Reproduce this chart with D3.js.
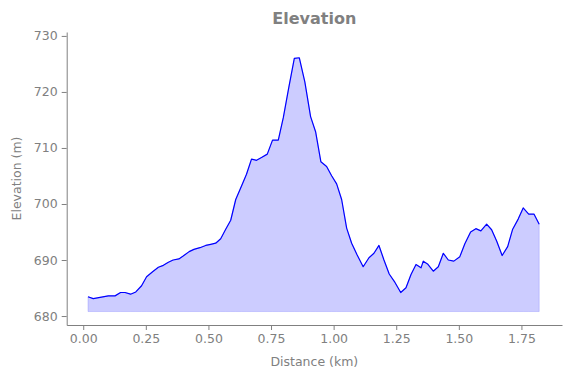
<!DOCTYPE html>
<html>
<head>
<meta charset="utf-8">
<script src="https://cdn.jsdelivr.net/npm/d3@7"></script>
<style>
  body { margin: 0; background: #fff; }
  svg text { font-family: "DejaVu Sans", sans-serif; fill: #808080; }
</style>
</head>
<body>
<svg id="chart" width="571" height="378"></svg>
<script>
// distance (km) and elevation (m)
let distance = [
	0.019, 0.040, 0.100, 0.127, 0.149, 0.167, 0.189, 0.210, 0.233, 0.253,
	0.277, 0.300, 0.320, 0.340, 0.359, 0.382, 0.399, 0.423, 0.442, 0.466,
	0.489, 0.509, 0.529, 0.549, 0.569, 0.589, 0.609, 0.633, 0.652, 0.672,
	0.692, 0.712, 0.735, 0.756, 0.779, 0.799, 0.821, 0.843, 0.863, 0.885,
	0.908, 0.928, 0.949, 0.972, 0.992, 1.012, 1.032, 1.052, 1.072, 1.094,
	1.118, 1.141, 1.161, 1.181, 1.201, 1.222, 1.245, 1.268, 1.289, 1.309,
	1.329, 1.349, 1.358, 1.375, 1.398, 1.418, 1.438, 1.458, 1.480, 1.504,
	1.524, 1.547, 1.568, 1.588, 1.611, 1.631, 1.651, 1.673, 1.695, 1.715,
	1.737, 1.757, 1.779, 1.800, 1.821
];
let elevation = [
	683.45, 683.1, 683.6, 683.6, 684.2, 684.2, 683.9, 684.3, 685.4, 687.0,
	687.9, 688.7, 689.05, 689.6, 690.0, 690.2, 690.7, 691.5, 691.9, 692.2,
	692.6, 692.8, 693.0, 693.8, 695.5, 697.1, 700.8, 703.3, 705.3, 708.0,
	707.8, 708.3, 708.9, 711.4, 711.4, 715.4, 720.8, 726.0, 726.1, 721.8,
	715.6, 712.9, 707.55, 706.7, 705.05, 703.6, 700.8, 695.7, 693.0, 690.9,
	688.8, 690.4, 691.2, 692.6, 690.0, 687.5, 686.0, 684.2, 685.05, 687.4,
	689.2, 688.6, 689.8, 689.3, 688.0, 688.8, 691.2, 690.0, 689.8, 690.6,
	692.9, 695.0, 695.6, 695.2, 696.4, 695.4, 693.4, 690.8, 692.4, 695.5,
	697.3, 699.3, 698.2, 698.2, 696.4
];
let fillBase = 680.8;
let xTicks = [0, 0.25, 0.5, 0.75, 1.0, 1.25, 1.5, 1.75];
let yTicks = [680, 690, 700, 710, 720, 730];

let svg = d3.select("#chart");
let margin = { left: 66.7, right: 9, top: 32, bottom: 53 };
let width = 571;
let height = 378;

let x = d3.scaleLinear().domain([-0.066, 1.912]).range([margin.left, width - margin.right]);
let y = d3.scaleLinear().domain([678.4, 730.7]).range([height - margin.bottom, margin.top]);

let points = distance.map((d, i) => ({ d: d, e: elevation[i] }));

svg.append("path")
	.datum(points)
	.attr("fill", "#ccccff")
	.attr("stroke", "#0000ff")
	.attr("stroke-opacity", 0.15)
	.attr("stroke-width", 1)
	.attr("d", d3.area().x((p) => x(p.d)).y0(y(fillBase)).y1((p) => y(p.e)));

svg.append("path")
	.datum(points)
	.attr("fill", "none")
	.attr("stroke", "#0000ff")
	.attr("stroke-width", 1.2)
	.attr("stroke-linejoin", "round")
	.attr("d", d3.line().x((p) => x(p.d)).y((p) => y(p.e)));

let styleAxis = function (g) {
	g.selectAll(".domain").attr("stroke", "#808080").attr("stroke-width", 1);
	g.selectAll(".tick line").attr("stroke", "#808080").attr("stroke-width", 1);
	g.selectAll(".tick text")
		.attr("fill", "#808080")
		.style("font-family", "DejaVu Sans, sans-serif")
		.style("font-size", "12.5px");
};

svg.append("g")
	.attr("transform", "translate(0," + (height - margin.bottom) + ")")
	.call(d3.axisBottom(x).tickValues(xTicks).tickFormat(d3.format(".2f")).tickSize(5).tickSizeOuter(0).tickPadding(4))
	.call(styleAxis);

svg.append("g")
	.attr("transform", "translate(" + margin.left + ",0)")
	.call(d3.axisLeft(y).tickValues(yTicks).tickFormat(d3.format("d")).tickSize(5).tickSizeOuter(0).tickPadding(4))
	.call(styleAxis);

let cx = (margin.left + width - margin.right) / 2;

svg.append("text")
	.attr("x", cx)
	.attr("y", 24)
	.attr("text-anchor", "middle")
	.style("font-size", "16px")
	.style("font-weight", "bold")
	.text("Elevation");

svg.append("text")
	.attr("x", cx)
	.attr("y", 366)
	.attr("text-anchor", "middle")
	.style("font-size", "12.5px")
	.text("Distance (km)");

svg.append("text")
	.attr("transform", "translate(21," + (margin.top + (height - margin.bottom - margin.top) / 2) + ") rotate(-90)")
	.attr("text-anchor", "middle")
	.style("font-size", "12.5px")
	.text("Elevation (m)");
</script>
</body>
</html>
